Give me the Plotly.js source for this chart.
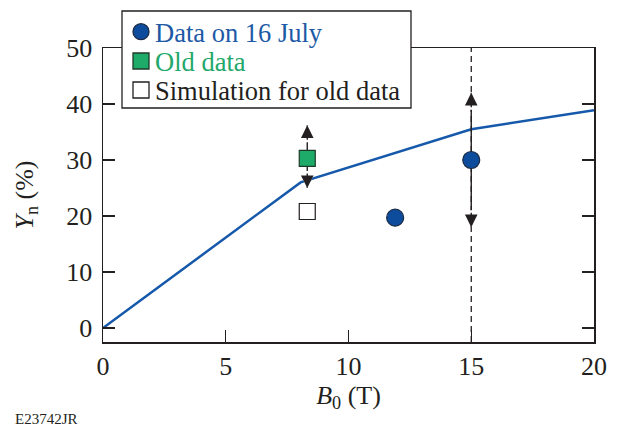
<!DOCTYPE html>
<html>
<head>
<meta charset="utf-8">
<script src="https://cdn.plot.ly/plotly-3.0.1.min.js"></script>
<style>
  html, body { margin: 0; padding: 0; background: #fff; }
  #chart { width: 618px; height: 427px; }
</style>
</head>
<body>
<div id="chart"></div>
<script>
// Simulated yield curve Y_n versus field B0
const simB = [0, 8.05, 15, 20];
const simY = [0, 26.0, 35.5, 38.9];

// Measurements taken on 16 July
const julyB = [11.9, 15];
const julyY = [19.7, 30.0];
const julyErrUp = [0, 12.0];
const julyErrDown = [0, 12.0];

// Earlier measurement and its simulation
const oldB = [8.32];
const oldY = [30.3];
const oldErrUp = [5.9];
const oldErrDown = [5.3];
const simOldB = [8.32];
const simOldY = [20.8];

// Field where the dashed marker line sits
const markB = 15;

const xTicks = [0, 5, 10, 15, 20];
const yTicks = [0, 10, 20, 30, 40, 50];

// Legend entries
const legendLabels = ['Data on 16 July', 'Old data', 'Simulation for old data'];

const FONT = 'Liberation Serif, Times New Roman, serif';
const INK = '#231f20';
const BLUE_LINE = '#1659ab';
const BLUE_FILL = '#0d4c9c';
const GREEN_FILL = '#1eaa68';
const BLUE_TEXT = '#1d5aa6';
const GREEN_TEXT = '#22a86a';

const legendColors = [BLUE_TEXT, GREEN_TEXT, INK];
const legendSymbols = ['circle', 'rect', 'rect'];
const legendFills = [BLUE_FILL, GREEN_FILL, '#ffffff'];
const legendEdges = ['#1b2b45', '#1f3a2b', INK];

// Plot-area geometry in pixels, used to place the boxed legend
const W = 618, H = 427, M = { l: 103, r: 24, t: 48, b: 85 };
const plotW = W - M.l - M.r, plotH = H - M.t - M.b;
const px = v => (v - M.l) / plotW;
const py = v => (H - M.b - v) / plotH;

const errStyle = (up, down) => ({
  type: 'data', symmetric: false, array: up, arrayminus: down,
  color: INK, thickness: 1.4, width: 0, visible: true
});

const traces = [
  {
    x: simB, y: simY, mode: 'lines', showlegend: false, hoverinfo: 'skip',
    line: { color: BLUE_LINE, width: 2.5 }
  },
  {
    x: julyB, y: julyY, mode: 'markers', name: legendLabels[0], showlegend: false,
    marker: { symbol: 'circle', size: 17, color: BLUE_FILL, line: { color: '#1b2b45', width: 1.2 } },
    error_y: errStyle(julyErrUp, julyErrDown)
  },
  {
    x: oldB, y: oldY, mode: 'markers', name: legendLabels[1], showlegend: false,
    marker: { symbol: 'square', size: 16, color: GREEN_FILL, line: { color: '#1f3a2b', width: 1.2 } },
    error_y: errStyle(oldErrUp, oldErrDown)
  },
  {
    x: simOldB, y: simOldY, mode: 'markers', name: legendLabels[2], showlegend: false,
    marker: { symbol: 'square', size: 16, color: '#ffffff', line: { color: INK, width: 1.2 } }
  }
];

// Arrowheads at the ends of each error bar, each with a thin white halo
const annotations = [];
function addHeads(xs, ys, ups, downs) {
  xs.forEach((x, i) => {
    if (!ups[i] && !downs[i]) return;
    const halo = { xref: 'x', yref: 'y', text: '', showarrow: true, arrowhead: 2,
      arrowsize: 0.85, arrowwidth: 4, arrowcolor: '#ffffff', ax: 0, standoff: 0 };
    const head = { xref: 'x', yref: 'y', text: '', showarrow: true, arrowhead: 2,
      arrowsize: 1.8, arrowwidth: 1.4, arrowcolor: INK, ax: 0, standoff: 0 };
    [[ys[i] + ups[i], 16], [ys[i] - downs[i], -16]].forEach(([tip, ay]) => {
      annotations.push(Object.assign({}, halo, { x: x, y: tip, ay: ay }));
      annotations.push(Object.assign({}, head, { x: x, y: tip, ay: ay }));
    });
  });
}
addHeads(julyB, julyY, julyErrUp, julyErrDown);
addHeads(oldB, oldY, oldErrUp, oldErrDown);

// Boxed legend drawn above the frame
const shapes = [
  {
    type: 'line', xref: 'x', yref: 'paper', x0: markB, x1: markB, y0: 0, y1: 1,
    line: { color: INK, width: 1.3, dash: '6px,4px' }, layer: 'below'
  },
  {
    type: 'rect', xref: 'paper', yref: 'paper',
    x0: px(122), x1: px(411), y0: py(108), y1: py(11),
    fillcolor: '#ffffff', line: { color: INK, width: 1.3 }, layer: 'above'
  }
];
const rowY = [31.7, 61, 90];
legendLabels.forEach((label, i) => {
  shapes.push({
    type: legendSymbols[i] === 'circle' ? 'circle' : 'rect',
    xref: 'paper', yref: 'paper', xsizemode: 'pixel', ysizemode: 'pixel',
    xanchor: px(141), yanchor: py(rowY[i]),
    x0: -8, x1: 8, y0: -8, y1: 8,
    fillcolor: legendFills[i], line: { color: legendEdges[i], width: 1.3 }, layer: 'above'
  });
  annotations.push({
    text: label, xref: 'paper', yref: 'paper',
    x: px(153), y: py(rowY[i] + 1), xanchor: 'left', yanchor: 'middle',
    showarrow: false, font: { family: FONT, size: 26.5, color: legendColors[i] }
  });
});

annotations.push({
  text: 'E23742JR', xref: 'paper', yref: 'paper',
  x: px(13), y: py(419), xanchor: 'left', yanchor: 'middle',
  showarrow: false, font: { family: FONT, size: 15, color: INK }
});

const layout = {
  width: W, height: H,
  margin: { l: M.l, r: M.r, t: M.t, b: M.b, pad: 0 },
  paper_bgcolor: '#ffffff', plot_bgcolor: '#ffffff',
  font: { family: FONT, size: 26, color: INK },
  showlegend: false,
  xaxis: {
    range: [0, 20], tickvals: xTicks, ticktext: xTicks.map(String),
    ticks: 'inside', ticklen: 12, tickwidth: 1.3, tickcolor: INK,
    showline: true, linecolor: INK, linewidth: 1.5, mirror: true,
    showgrid: false, zeroline: false,
    tickfont: { family: FONT, size: 26, color: INK },
    title: { text: '<i>B</i><sub>0</sub> (T)', font: { family: FONT, size: 26, color: INK }, standoff: 4 }
  },
  yaxis: {
    range: [-2.5, 50], tickvals: yTicks, ticktext: yTicks.map(String),
    ticks: 'inside', ticklen: 12, tickwidth: 1.3, tickcolor: INK,
    showline: true, linecolor: INK, linewidth: 1.5, mirror: 'ticks',
    showgrid: false, zeroline: false, ticklabelstandoff: 4,
    tickfont: { family: FONT, size: 26, color: INK },
    title: { text: '<i>Y</i><sub>n</sub> (%)', font: { family: FONT, size: 26, color: INK }, standoff: 25 }
  },
  shapes: shapes,
  annotations: annotations
};

Plotly.newPlot('chart', traces, layout, { displayModeBar: false, staticPlot: true });
</script>
</body>
</html>
